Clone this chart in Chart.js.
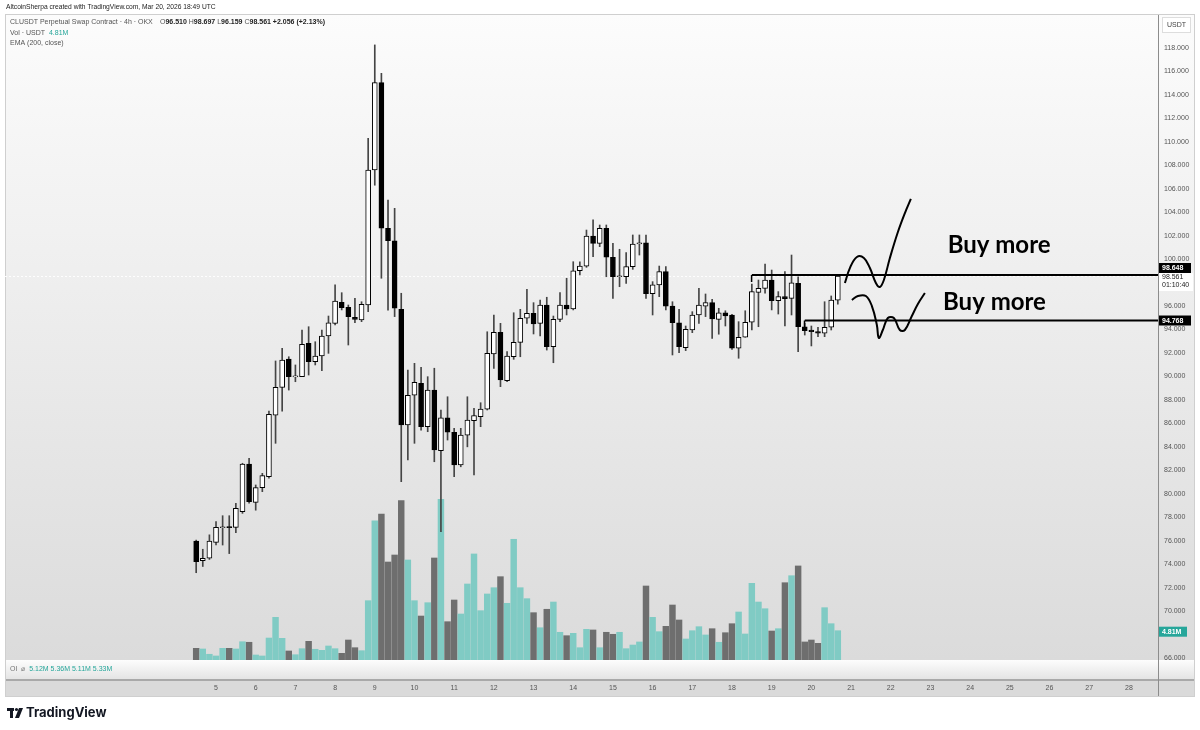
<!DOCTYPE html>
<html><head><meta charset="utf-8">
<script src="https://cdn.jsdelivr.net/npm/chart.js@4.4.1/dist/chart.umd.min.js"></script>
<style>html,body{margin:0;padding:0;background:#fff;}#wrap{width:1200px;height:730px;position:relative;}</style>
</head><body><div id="wrap"><canvas id="c" width="1200" height="730"></canvas></div>
<script>
// ---- DATA (4h candles, CLUSDT, Mar 4 12:00 -> Mar 20 16:00) ----
const opens  = [75.97,74.30,74.50,75.86,77.10,77.16,77.14,78.47,82.54,79.27,80.52,81.45,86.71,89.07,91.49,89.96,89.98,92.83,91.26,91.74,93.45,94.53,96.32,95.90,95.04,94.81,96.10,107.60,115.04,102.63,101.57,95.72,85.86,88.40,89.41,85.72,88.84,83.67,86.48,85.24,82.45,85.00,86.23,86.57,87.22,91.91,93.76,89.64,91.68,92.91,94.96,95.38,94.53,96.09,92.54,94.87,96.09,95.75,99.01,99.41,101.97,101.35,102.63,100.16,98.50,98.50,99.36,101.29,101.38,97.05,97.80,98.93,96.00,94.58,92.45,93.96,95.24,96.00,96.29,94.87,95.43,95.24,92.40,93.34,94.62,97.17,97.51,98.22,96.46,96.80,96.66,97.94,94.24,93.96,93.82,93.68,94.19,96.51];
const highs  = [76.05,75.27,76.50,77.62,78.13,78.13,79.19,82.60,83.02,80.75,81.74,87.05,91.32,92.39,91.68,90.98,93.96,94.24,92.96,93.96,95.15,97.80,97.14,96.09,96.66,96.37,110.30,118.26,115.84,105.04,104.33,97.09,90.55,91.12,90.78,89.98,90.70,87.14,88.27,85.58,85.58,88.27,87.28,87.76,93.81,95.24,94.53,92.11,95.43,95.72,97.43,96.29,96.52,96.75,95.15,97.14,98.37,99.78,99.78,102.48,103.34,102.91,102.91,101.35,100.84,100.55,102.06,102.06,102.06,98.08,99.41,99.36,96.37,95.72,94.30,95.52,97.51,97.03,96.58,95.81,95.60,95.30,94.67,95.60,97.88,98.22,99.58,99.07,97.23,98.93,100.35,98.50,94.53,94.30,94.19,96.37,96.86,98.697];
const lows   = [73.27,73.80,74.40,75.63,75.63,74.90,76.68,78.33,79.19,78.60,80.18,81.32,84.30,87.05,88.84,89.55,89.98,90.12,90.98,90.49,91.97,94.39,95.67,92.68,94.58,94.67,95.52,106.30,98.37,95.66,95.10,81.03,82.88,84.30,85.43,85.29,82.73,76.76,84.58,81.45,82.30,84.00,81.60,85.72,87.14,90.69,89.13,89.55,91.46,91.68,94.53,93.62,93.45,92.25,91.17,94.67,95.24,95.67,98.65,99.30,100.21,101.06,98.50,96.66,97.65,97.94,99.13,100.35,96.66,95.24,96.80,95.67,91.83,92.03,92.20,93.73,94.53,95.10,93.25,93.60,94.30,92.30,91.55,93.34,93.96,94.24,97.09,95.67,95.32,94.30,95.24,92.11,93.53,92.60,93.39,93.39,93.96,96.159];
const closes = [74.21,74.50,75.97,77.14,77.16,77.12,78.76,82.54,79.32,80.52,81.54,86.77,89.07,91.40,89.98,90.00,92.74,91.26,91.74,93.45,94.58,96.43,95.86,95.10,94.87,96.15,107.60,115.04,102.63,101.57,95.81,85.86,88.40,89.50,85.72,88.84,83.73,86.48,85.24,82.45,85.00,86.29,86.66,87.22,91.97,93.76,89.70,91.74,92.91,94.96,95.38,94.47,96.09,92.54,94.87,96.09,95.75,99.01,99.41,101.97,101.35,102.63,100.16,98.50,98.58,99.36,101.29,101.38,97.05,97.80,98.93,96.00,94.58,92.54,94.02,95.24,96.09,96.29,94.90,95.43,95.15,92.40,93.34,94.62,97.23,97.51,98.22,96.46,96.80,96.63,97.99,94.24,93.90,93.82,93.68,94.19,96.52,98.561];
const volumes = [1.92,1.81,0.94,0.66,1.92,1.92,1.81,3.00,2.91,0.82,0.66,3.61,7.01,3.56,1.48,0.87,1.86,3.07,1.76,1.59,2.30,1.86,1.10,3.28,2.02,1.53,9.74,22.87,23.97,16.09,17.24,26.16,16.42,9.74,7.22,9.41,16.75,26.39,6.29,9.85,7.55,12.48,17.41,8.10,10.84,11.87,13.68,9.31,19.82,11.87,10.07,7.77,5.30,8.33,9.52,4.55,3.99,4.38,2.02,5.04,4.93,2.02,4.55,4.22,4.55,1.86,2.46,2.96,12.15,7.01,4.65,5.53,9.03,6.57,3.45,4.81,5.47,4.11,5.14,2.91,4.48,5.96,7.88,4.27,12.59,9.52,8.42,4.76,5.14,12.69,13.84,15.44,2.96,3.28,2.74,8.59,5.96,4.81];
const dayLabels = [5,6,7,8,9,10,11,12,13,14,15,16,17,18,19,20,21,22,23,24,25,26,27,28];
const priceTicks = [66,68,70,72,74,76,78,80,82,84,86,88,90,92,94,96,98,100,102,104,106,108,110,112,114,116,118];
const levelPrices = [98.648, 94.768];
const levelStartIdx = [84, 92];
// hand-drawn annotation strokes, in (candle index, price)
const strokeUpX = [98.07,98.82,99.88,100.94,101.85,102.75,103.36,103.96,104.87,106.08,107.14,108.04];
const strokeUpY = [97.97,99.24,100.18,100.10,99.24,97.97,97.63,98.22,100.10,102.31,103.93,105.13];
const strokeLoX = [99.12,100.03,101.24,102.15,102.90,103.20,103.80,104.56,105.47,106.37,107.13,108.19,109.10,110.16];
const strokeLoY = [96.52,96.86,96.86,96.00,94.39,93.28,93.96,94.98,94.98,93.96,93.96,95.15,96.18,97.11];
const noteText = ['Buy more','Buy more'];
const noteX = [113.6, 112.9];
const noteY = [101.2, 96.35];

const X_MIN = -28.9, X_MAX = 145.4;
const UP_VOL = '#80cbc4', DN_VOL = '#6e6e6e', TEAL = '#26a69a';

const idx = opens.map((_, i) => i);
const isUp = i => closes[i] >= opens[i];

const decor = {
  id: 'decor',
  beforeDraw(chart) {
    const ctx = chart.ctx;
    ctx.save();
    ctx.fillStyle = '#fff'; ctx.fillRect(0, 0, chart.width, chart.height);
    let g = ctx.createLinearGradient(0, 14, 0, 660);
    g.addColorStop(0, '#fcfcfc'); g.addColorStop(1, '#dbdbdb');
    ctx.fillStyle = g; ctx.fillRect(5, 14, 1190, 646);
    g = ctx.createLinearGradient(0, 660, 0, 680);
    g.addColorStop(0, '#fdfdfd'); g.addColorStop(1, '#e3e3e3');
    ctx.fillStyle = g; ctx.fillRect(5, 660, 1190, 19);
    ctx.fillStyle = '#a9a9a9'; ctx.fillRect(5, 679, 1190, 2);
    ctx.fillStyle = '#dadada'; ctx.fillRect(5, 681, 1190, 16);
    ctx.fillStyle = '#8c8c8c'; ctx.fillRect(1158, 14, 1, 683);
    ctx.strokeStyle = '#cfcfcf'; ctx.lineWidth = 1; ctx.strokeRect(5.5, 14.5, 1189, 682);
    // faint current price line
    const ys = chart.scales.y;
    const cy = Math.round(ys.getPixelForValue(closes[closes.length - 1])) + 0.5;
    ctx.strokeStyle = 'rgba(255,255,255,0.9)'; ctx.setLineDash([2, 2]);
    ctx.beginPath(); ctx.moveTo(5, cy); ctx.lineTo(1158, cy); ctx.stroke();
    ctx.setLineDash([]);
    ctx.restore();
  },
  afterDraw(chart) {
    const ctx = chart.ctx, ys = chart.scales.y, xs = chart.scales.x, yv = chart.scales.yv;
    ctx.save();
    // header
    ctx.textBaseline = 'middle';
    ctx.font = '6.7px "Liberation Sans", Arial, sans-serif';
    ctx.fillStyle = '#222';
    ctx.fillText('AltcoinSherpa created with TradingView.com, Mar 20, 2026 18:49 UTC', 6, 7);
    let x = 10;
    const put = (t, font, col, y) => { ctx.font = font; ctx.fillStyle = col; ctx.fillText(t, x, y); x += ctx.measureText(t).width; };
    const nf = '7px "Liberation Sans", Arial, sans-serif';
    const bf = 'bold 7px "Liberation Sans", Arial, sans-serif';
    put('CLUSDT Perpetual Swap Contract · 4h · OKX  ', nf, '#555', 22);
    x = 160;
    put('O', nf, '#555', 22); put('96.510 ', bf, '#222', 22);
    put('H', nf, '#555', 22); put('98.697 ', bf, '#222', 22);
    put('L', nf, '#555', 22); put('96.159 ', bf, '#222', 22);
    put('C', nf, '#555', 22); put('98.561 ', bf, '#222', 22);
    put('+2.056 (+2.13%)', bf, '#222', 22);
    x = 10; put('Vol · USDT  ', nf, '#555', 33); put('4.81M', nf, TEAL, 33);
    x = 10; put('EMA (200, close)', nf, '#555', 43);
    // OI pane
    x = 10; put('OI  ⌀  ', nf, '#777', 669);
    ['5.12M ', '5.36M ', '5.11M ', '5.33M'].forEach(t => put(t, nf, TEAL, 669));
    // USDT box
    ctx.fillStyle = '#fff'; ctx.fillRect(1162, 17, 28, 15);
    ctx.strokeStyle = '#ddd'; ctx.strokeRect(1162.5, 17.5, 28, 15);
    ctx.fillStyle = '#444'; ctx.font = nf; ctx.fillText('USDT', 1167, 25);
    // level anchors (small ticks)
    ctx.fillStyle = '#000';
    levelPrices.forEach((p, k) => {
      const px = xs.getPixelForValue(levelStartIdx[k]);
      const py = ys.getPixelForValue(p);
      ctx.fillRect(px - 1, py, 1.5, 7);
    });
    // axis price labels
    const box = (cy, txt, bg, fg, h) => {
      ctx.fillStyle = bg; ctx.fillRect(1159, cy - h / 2, 32, h);
      ctx.fillStyle = fg; ctx.font = bf; ctx.fillText(txt, 1162, cy + 0.5);
    };
    const cp = closes[closes.length - 1];
    const cpy = ys.getPixelForValue(cp);
    ctx.fillStyle = '#fff'; ctx.fillRect(1159, cpy - 3, 34, 18);
    ctx.fillStyle = '#222'; ctx.font = nf;
    ctx.fillText(cp.toFixed(3), 1162, cpy + 1.5);
    ctx.fillText('01:10:40', 1162, cpy + 9.5);
    box(ys.getPixelForValue(levelPrices[0]) - 7, levelPrices[0].toFixed(3), '#000', '#fff', 10);
    box(ys.getPixelForValue(levelPrices[1]), levelPrices[1].toFixed(3), '#000', '#fff', 10);
    const vy = yv.getPixelForValue(volumes[volumes.length - 1]) + 1;
    ctx.fillStyle = TEAL; ctx.fillRect(1159, vy - 5, 28, 10);
    ctx.fillStyle = '#fff'; ctx.font = bf; ctx.fillText('4.81M', 1162, vy + 0.5);
    // notes
    ctx.fillStyle = '#000';
    ctx.font = 'bold 24px Lato, "Open Sans", sans-serif';
    noteText.forEach((t, k) => ctx.fillText(t, xs.getPixelForValue(noteX[k]), ys.getPixelForValue(noteY[k])));
    // TradingView logo
    ctx.fillStyle = '#131722';
    ctx.fillRect(7, 708, 7, 3); ctx.fillRect(10, 708, 3, 10);
    ctx.beginPath(); ctx.arc(16.5, 709.5, 1.6, 0, Math.PI * 2); ctx.fill();
    ctx.beginPath(); ctx.moveTo(19, 708); ctx.lineTo(23, 708); ctx.lineTo(19, 718); ctx.lineTo(15, 718); ctx.closePath(); ctx.fill();
    ctx.font = 'bold 13px Inter, "Liberation Sans", sans-serif';
    ctx.fillText('TradingView', 26, 713.5);
    ctx.restore();
  }
};

const lineDs = (xsArr, ysArr, w, t) => ({
  type: 'line', data: xsArr.map((v, i) => ({ x: v, y: ysArr[i] })),
  borderColor: '#000', borderWidth: w, pointRadius: 0, tension: t, yAxisID: 'y', order: 0, fill: false
});

new Chart(document.getElementById('c'), {
  type: 'bar',
  data: {
    datasets: [
      {
        label: 'body', data: idx.map(i => ({ x: i, y: [opens[i], closes[i]] })),
        backgroundColor: c => isUp(c.dataIndex) ? '#ffffff' : '#000000',
        borderColor: '#000', borderWidth: 1, borderSkipped: false, barThickness: 5,
        minBarLength: 1, grouped: false, yAxisID: 'y', order: 1
      },
      {
        label: 'wick', data: idx.map(i => ({ x: i, y: [lows[i], highs[i]] })),
        backgroundColor: '#454545', borderWidth: 0, barThickness: 1, grouped: false, yAxisID: 'y', order: 2
      },
      {
        label: 'vol', data: idx.map(i => ({ x: i, y: volumes[i] })),
        backgroundColor: c => isUp(c.dataIndex) ? UP_VOL : DN_VOL,
        borderWidth: 0, barThickness: 5.8, grouped: false, yAxisID: 'yv', order: 3
      },
      lineDs([levelStartIdx[0], X_MAX], [levelPrices[0], levelPrices[0]], 2, 0),
      lineDs([levelStartIdx[1], X_MAX], [levelPrices[1], levelPrices[1]], 2, 0),
      lineDs(strokeUpX, strokeUpY, 2, 0.4),
      lineDs(strokeLoX, strokeLoY, 2, 0.4)
    ]
  },
  options: {
    responsive: false, animation: false, events: [],
    layout: { padding: { left: 5, top: 15, right: 0, bottom: 0 } },
    plugins: { legend: { display: false }, tooltip: { enabled: false } },
    scales: {
      x: {
        type: 'linear', min: X_MIN, max: X_MAX, offset: false,
        grid: { display: false, drawTicks: false }, border: { display: false },
        afterBuildTicks: s => { s.ticks = dayLabels.map(d => ({ value: (d - 5) * 6 + 3 })); },
        afterFit: s => { s.height = 70; },
        ticks: { autoSkip: false, maxRotation: 0, padding: 24, color: '#555', font: { size: 7, family: 'Liberation Sans' },
          callback: (v, i) => String(dayLabels[i]) }
      },
      y: {
        position: 'right', min: 65.83, max: 120.81,
        grid: { display: false, drawTicks: false }, border: { display: false },
        afterBuildTicks: s => { s.ticks = priceTicks.map(v => ({ value: v })); },
        afterFit: s => { s.width = 42; },
        ticks: { padding: 6, color: '#555', font: { size: 7, family: 'Liberation Sans' }, callback: v => Number(v).toFixed(3) }
      },
      yv: { display: false, min: 0, max: 105.9, position: 'left' }
    }
  },
  plugins: [decor]
});
</script></body></html>
